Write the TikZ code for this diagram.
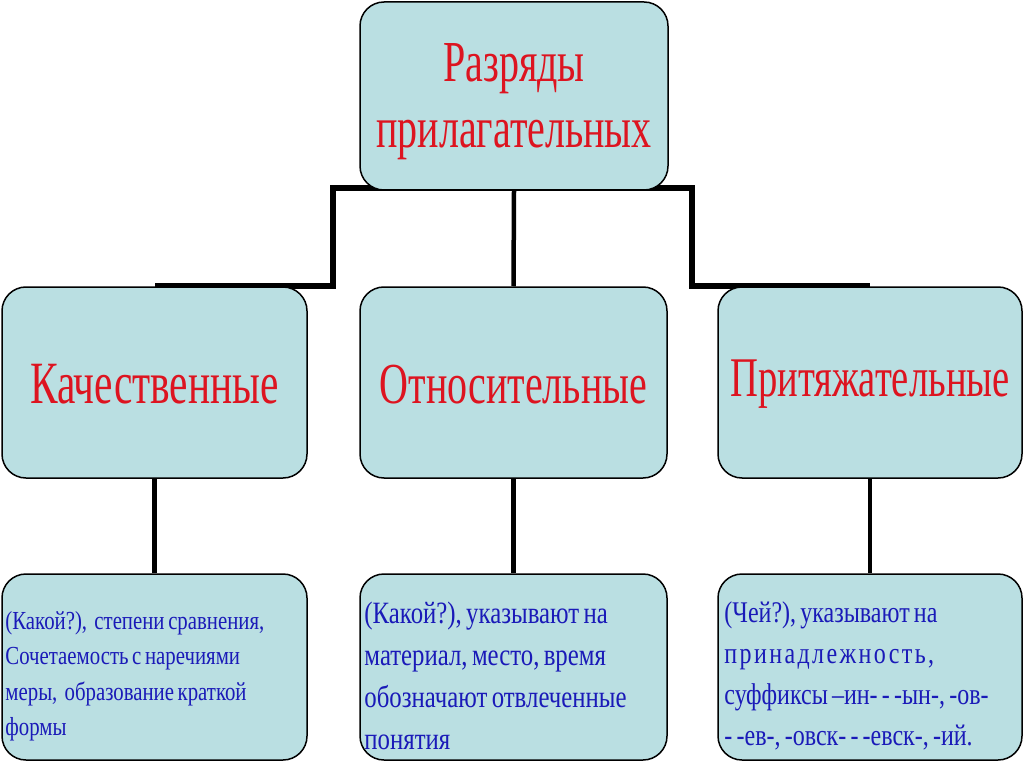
\documentclass[tikz,border=0pt]{standalone}
\usepackage{fontspec}
\setmainfont{Liberation Serif}
\newfontfamily\headfont[FakeStretch=0.69]{Liberation Serif}
\newfontfamily\bodyfont[FakeStretch=0.8,WordSpace=0.7]{Liberation Serif}
\usetikzlibrary{backgrounds}
\definecolor{boxfill}{HTML}{BADFE2}
\definecolor{headred}{HTML}{DD1420}
\definecolor{bodyblue}{HTML}{1A1AB8}
\tikzset{
  box/.style={draw=black, line width=1.5pt, fill=boxfill, rounded corners=24pt, inner sep=0pt},
  headtext/.style={font=\headfont\fontsize{58}{66}\selectfont, text=headred, align=center, inner sep=0pt},
  infotext/.style={text=bodyblue, align=left, inner sep=0pt, anchor=west},
  conn/.style={line width=6pt, draw=black},
  connthin/.style={line width=4.5pt, draw=black}
}
\begin{document}
\begin{tikzpicture}[x=1pt,y=-1pt]
\useasboundingbox (0,0) rectangle (1024,767);
% top
\node[box, minimum width=308pt, minimum height=188pt] (top) at (514,96) {};
\node[headtext] (topt) at ([yshift=-6pt]top.center) {Разряды\\прилагательных};
% middle row
\node[box, minimum width=305pt, minimum height=191pt] (a) at (154.5,382.5) {};
\node[box, minimum width=307pt, minimum height=191pt] (b) at (513.5,382.5) {};
\node[box, minimum width=304pt, minimum height=191pt] (c) at (870,382.5) {};
\node[headtext, font=\headfont\fontsize{60}{66}\selectfont] (at) at ([yshift=-2pt]a.center) {Качественные};
\node[headtext] (bt) at ([yshift=-2pt]b.center) {Относительные};
\node[headtext, font=\headfont\fontsize{56}{66}\selectfont] (ct) at ([yshift=-2pt]c.center) {Притяжательные};
% bottom row
\node[box, minimum width=305pt, minimum height=186pt] (a2) at (154.5,667) {};
\node[box, minimum width=307pt, minimum height=186pt] (b2) at (513.5,667) {};
\node[box, minimum width=304pt, minimum height=186pt] (c2) at (870,667) {};
\node[infotext, font=\bodyfont\fontsize{26}{35.5}\selectfont] (a2t) at ([xshift=4pt,yshift=-9pt]a2.west)
  {(Какой?),\ \ степени сравнения,\\Сочетаемость с наречиями\\меры,\ \ образование краткой\\формы};
\node[infotext, font=\bodyfont\fontsize{31}{42}\selectfont] (b2t) at ([xshift=5pt,yshift=-9pt]b2.west)
  {(Какой?), указывают на\\материал, место, время\\обозначают отвлеченные\\понятия};
\node[infotext, font=\bodyfont\fontsize{30}{41}\selectfont] (c2t) at ([xshift=7pt,yshift=-9pt]c2.west)
  {(Чей?), указывают на\\{\addfontfeatures{LetterSpace=8}принадлежность,}\\суффиксы –ин-\ - -ын-, -ов-\\-\ -ев-, -овск-\ - -евск-, -ий.};
\coordinate (jl) at (333,188);
\coordinate (jr) at (692,188);
\begin{scope}[on background layer]
  \draw[conn] ([xshift=-3pt]jl) -- ([xshift=3pt]jr);
  \draw[conn] (jl) |- (a.north);
  \draw[conn] (jr) |- (c.north);
  \draw[connthin] (top.south) -- (b.north);
  \draw[connthin] (a.south) -- (a2.north);
  \draw[connthin] (b.south) -- (b2.north);
  \draw[connthin] (c.south) -- (c2.north);
\end{scope}
\end{tikzpicture}
\end{document}
